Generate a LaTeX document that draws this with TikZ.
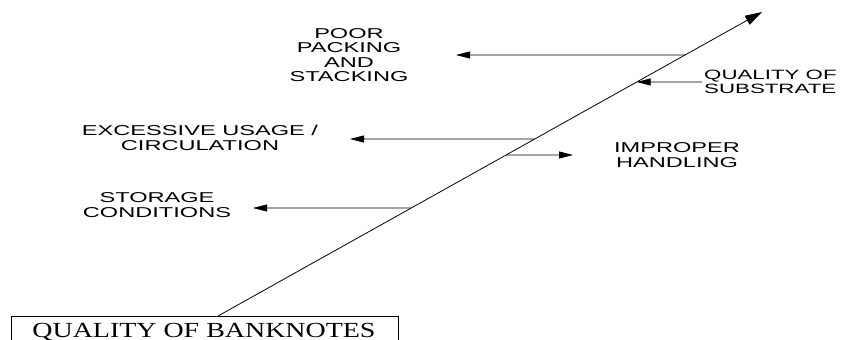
\documentclass[tikz,border=0pt]{standalone}
\usepackage{fontspec}
\setmainfont{Liberation Sans}
\newfontfamily\lblfont[FakeStretch=1.65]{Liberation Sans}
\newfontfamily\boxfont[FakeStretch=1.3]{Liberation Serif}
\usetikzlibrary{arrows.meta,calc}
\begin{document}
\begin{tikzpicture}[x=1pt,y=-1pt,
  lbl/.style={align=center,inner sep=0pt,font=\lblfont\fontsize{14.3}{14.5}\selectfont},
  lblleft/.style={align=left,inner sep=0pt,font=\lblfont\fontsize{13.5}{13.5}\selectfont},
  cause/.style={line width=0.8pt,-{Triangle[length=14pt,width=7pt]}},
  spine/.style={line width=0.8pt,-{Triangle[length=17pt,width=10pt]}},
  titlebox/.style={draw,line width=0.8pt,minimum width=387pt,minimum height=36pt,inner sep=0pt,anchor=north west}
]
\useasboundingbox (0,0) rectangle (855,340);
% title box (cut at the bottom of the picture)
\begin{scope}
\clip (0,0) rectangle (855,340);
\node[titlebox] (box) at (11,316) {};
\end{scope}
\node[anchor=base,inner sep=0pt,font=\boxfont\fontsize{21.5}{21.5}\selectfont] (title) at (204,337) {QUALITY OF BANKNOTES};
% spine
\coordinate (s) at (218,316);
\coordinate (e) at (762,12);
\draw[spine] (s) -- (e);
% points on spine
\coordinate (pPack) at ($(s)!{(316-55)/304}!(e)$);
\coordinate (pSub)  at ($(s)!{(316-82)/304}!(e)$);
\coordinate (pExc)  at ($(s)!{(316-139)/304}!(e)$);
\coordinate (pImp)  at ($(s)!{(316-155)/304}!(e)$);
\coordinate (pSto)  at ($(s)!{(316-208)/304}!(e)$);
% labels
\node[lbl] (pack) at (349,55) {POOR\\PACKING\\AND\\STACKING};
\node[lblleft,anchor=west] (sub) at (704,82) {QUALITY OF\\SUBSTRATE};
\node[lbl] (exc) at (200,138) {EXCESSIVE USAGE /\\CIRCULATION};
\node[lbl] (imp) at (677,155) {IMPROPER\\HANDLING};
\node[lbl] (sto) at (157,205) {STORAGE\\CONDITIONS};
% tips
\coordinate (tPack) at (456,55);
\coordinate (tSub) at (702,82);
\coordinate (tExc) at (350,139);
\coordinate (tImp) at (573,155);
\coordinate (tSto) at (253,208);
% cause arrows
\draw[cause] (pPack) -- (tPack);
\draw[cause] (tSub) -- (pSub);
\draw[cause] (pExc) -- (tExc);
\draw[cause] (pImp) -- (tImp);
\draw[cause] (pSto) -- (tSto);
\end{tikzpicture}
\end{document}
